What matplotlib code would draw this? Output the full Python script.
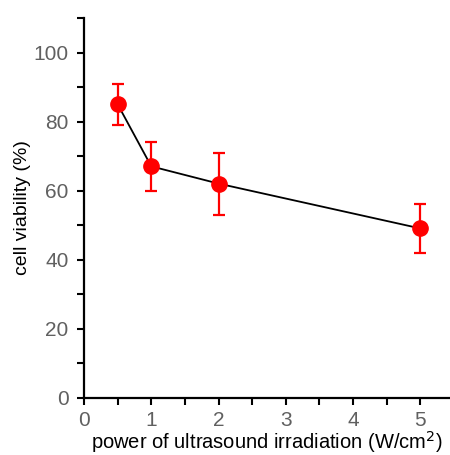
import matplotlib.pyplot as plt
from matplotlib.ticker import MultipleLocator

plt.rcParams['font.family'] = ['Liberation Sans', 'DejaVu Sans']

# data
power = [0.5, 1, 2, 5]
viability = [85, 67, 62, 49]
err = [6, 7, 9, 7]

fig = plt.figure(figsize=(4.5, 4.55), dpi=100)
ax = fig.add_axes([84/450, 57.5/455, 366/450, 379.5/455])

ax.plot(power, viability, color='black', lw=1.3, zorder=1)
ax.errorbar(power, viability, yerr=err, fmt='o', color='red', ms=11,
            ecolor='red', elinewidth=1.6, capsize=4, capthick=1.6, zorder=2)

ax.set_xlim(0, 5.44)
ax.set_ylim(0, 110)
ax.xaxis.set_major_locator(MultipleLocator(1))
ax.xaxis.set_minor_locator(MultipleLocator(0.5))
ax.yaxis.set_major_locator(MultipleLocator(20))
ax.yaxis.set_minor_locator(MultipleLocator(10))

for s in ['top', 'right']:
    ax.spines[s].set_visible(False)
for s in ['left', 'bottom']:
    ax.spines[s].set_linewidth(1.6)

ax.tick_params(which='both', direction='out', length=5, width=1.5,
               labelsize=15, labelcolor='#606060')
ax.tick_params(axis='y', pad=6)
ax.tick_params(axis='x', pad=5)

ax.set_xlabel('power of ultrasound irradiation (W/cm$^2$)', fontsize=14.5, labelpad=-1)
ax.set_ylabel('cell viability (%)', fontsize=14, labelpad=2)

fig.savefig('out.png', dpi=100)
